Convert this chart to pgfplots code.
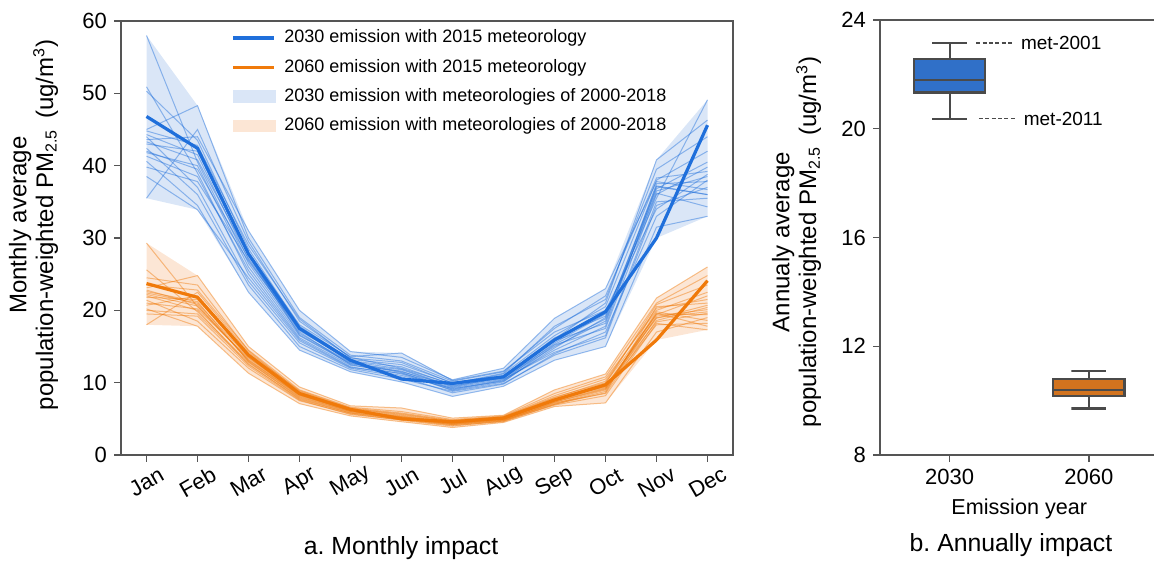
\documentclass[border=0pt]{standalone}
\usepackage{pgfplots}
\pgfplotsset{compat=1.18}
\usepackage{pgfplotstable}
\usepackage{fontspec}
\setmainfont{Liberation Sans}

\definecolor{c30}{HTML}{1F6FDB}
\definecolor{c60}{HTML}{F07A0A}
\definecolor{b30}{HTML}{DAE6F7}
\definecolor{b60}{HTML}{FCE6D5}
\definecolor{box30}{HTML}{3070C8}
\definecolor{box60}{HTML}{D2731E}
\definecolor{boxedge}{HTML}{4A4A4A}
\definecolor{axgray}{HTML}{555555}

\pgfplotsset{
  leglong/.style={legend image code/.code={\draw[##1] (0cm,0cm) -- (0.72cm,0cm);
      \path (0.845cm,0cm);}},
  legpatch/.style={legend image code/.code={\fill[##1] (0cm,-0.1cm) rectangle (0.75cm,0.11cm);
      \path (0.845cm,0cm);}},
  thin30/.style={c30, opacity=0.45, line width=0.5pt, forget plot},
  thin60/.style={c60, opacity=0.45, line width=0.5pt, forget plot},
  boxline/.style={boxedge, line width=1.1pt, forget plot},
}

% monthly population-weighted PM2.5, 2030 emission
% main = 2015 meteorology, L1..L18 = other meteorology years
\pgfplotstableread{
m main L1 L2 L3 L4 L5 L6 L7 L8 L9 L10 L11 L12 L13 L14 L15 L16 L17 L18
0 46.8 58.0 35.5 50.9 50.3 45.0 44.3 44.0 43.6 42.4 41.8 41.3 40.6 43.0 42.0 38.5 44.8 39.8 43.3
1 42.4 40.5 45.0 39.0 43.5 48.3 41.5 37.0 44.0 36.0 40.0 38.5 34.5 42.0 39.5 33.9 42.8 37.8 40.8
2 27.8 26.5 29.5 25.0 28.5 30.0 27.0 24.0 31.0 23.5 26.0 25.5 22.5 28.0 27.2 24.5 29.0 26.8 27.6
3 17.5 16.8 18.5 16.0 17.8 19.0 17.0 15.5 20.0 15.0 16.5 16.2 14.5 18.0 17.2 15.8 18.8 17.4 16.6
4 13.1 12.8 13.5 12.2 13.2 13.8 12.5 12.0 14.3 11.8 12.6 12.4 11.5 13.6 13.0 12.1 13.4 12.9 12.7
5 10.5 11.5 12.0 11.0 12.5 13.0 11.2 10.8 13.5 10.5 11.8 11.6 10.1 14.1 12.2 11.3 12.8 11.9 11.4
6 9.9 9.6 9.8 9.2 10.0 10.2 9.0 8.6 10.4 8.8 9.4 9.1 8.1 10.3 9.7 9.3 9.9 9.5 8.9
7 10.8 10.6 11.2 10.2 11.0 11.5 10.3 9.8 12.0 9.9 10.7 10.4 9.5 11.6 10.9 10.5 11.3 10.8 10.1
8 15.9 15.0 16.5 14.8 16.0 17.5 15.5 14.0 18.9 13.8 15.3 14.5 13.1 17.0 16.2 14.2 17.8 15.8 15.2
9 19.8 18.5 20.5 19.0 21.0 22.0 19.5 17.0 23.0 16.2 18.8 17.8 15.0 20.0 19.2 16.5 21.5 18.2 17.5
10 30.0 36.5 38.0 37.2 40.8 38.3 35.5 33.0 37.8 34.5 36.2 37.1 31.5 34.0 36.8 35.0 39.5 37.5 36.0
11 45.6 38.5 42.0 36.0 46.3 39.2 49.1 38.0 36.7 37.0 34.3 36.0 33.0 38.8 40.5 35.5 44.0 37.8 39.8
}\tblA

% monthly population-weighted PM2.5, 2060 emission
\pgfplotstableread{
m main L1 L2 L3 L4 L5 L6 L7 L8 L9 L10 L11 L12 L13 L14 L15 L16 L17 L18
0 23.7 29.3 18.0 25.6 23.1 22.4 21.4 20.7 22.0 21.8 20.2 22.8 19.5 23.5 21.0 22.6 20.0 24.5 22.2
1 21.8 20.5 22.5 19.8 24.8 21.0 18.5 22.0 20.0 21.5 17.8 20.8 19.2 22.8 20.2 21.2 19.5 23.5 20.6
2 13.8 13.2 14.2 12.8 15.0 13.5 12.0 14.0 12.5 13.8 11.3 13.0 12.3 14.5 13.4 12.9 12.6 14.4 13.1
3 8.5 8.2 8.8 8.0 9.4 8.4 7.5 8.9 7.8 8.6 7.1 8.1 7.6 9.0 8.3 7.9 7.7 8.7 8.3
4 6.3 6.1 6.4 6.0 6.8 6.2 5.7 6.5 5.8 6.3 5.4 6.0 5.6 6.6 6.1 5.9 5.8 6.4 6.2
5 5.0 5.3 5.6 5.1 6.5 5.4 4.8 5.8 4.9 5.5 4.6 5.2 4.9 6.0 5.3 5.0 5.1 5.7 5.2
6 4.6 4.4 4.7 4.3 5.1 4.5 4.0 4.8 4.1 4.6 3.8 4.4 4.2 4.9 4.5 4.3 4.2 4.7 4.4
7 5.1 5.0 5.2 4.9 5.5 5.1 4.7 5.3 4.6 5.2 4.5 4.9 4.8 5.4 5.0 4.8 4.7 5.3 5.0
8 7.6 7.3 7.9 7.1 9.0 7.5 6.9 8.2 7.0 7.8 6.7 7.4 7.2 8.5 7.6 7.0 7.3 8.0 7.7
9 9.7 9.2 10.2 9.0 11.2 9.5 8.2 10.5 8.8 9.9 7.2 9.3 8.5 10.8 9.6 8.6 9.1 10.0 9.4
10 15.9 19.5 20.3 19.8 21.7 18.9 18.2 20.0 19.2 20.8 17.0 19.6 18.6 21.0 19.0 20.5 18.0 19.4 18.4
11 24.1 19.4 21.5 18.6 26.0 20.7 17.3 22.5 20.1 23.5 19.0 17.8 20.4 24.8 19.8 21.0 18.2 22.0 19.6
}\tblB

% envelopes (max over Jan..Dec, then min over Dec..Jan)
\pgfplotstableread{
m v
0 58.0
1 48.3
2 31.0
3 20.0
4 14.3
5 14.1
6 10.4
7 12.0
8 18.9
9 23.0
10 40.8
11 49.1
11 33.0
10 30.0
9 15.0
8 13.1
7 9.5
6 8.1
5 10.1
4 11.5
3 14.5
2 22.5
1 33.9
0 35.5
}\bandA
\pgfplotstableread{
m v
0 29.3
1 24.8
2 15.0
3 9.4
4 6.8
5 6.5
6 5.1
7 5.5
8 9.0
9 11.2
10 21.7
11 26.0
11 17.3
10 15.9
9 7.2
8 6.7
7 4.5
6 3.8
5 4.6
4 5.4
3 7.1
2 11.3
1 17.8
0 18.0
}\bandB

\begin{document}
\begin{tikzpicture}
\begin{scope}
\clip (0,0) rectangle (577pt,-282.5pt);

% ---- a. monthly impact ----
\begin{axis}[
  at={(60.5pt,-227.5pt)}, anchor=south west,
  width=306pt, height=217pt, scale only axis,
  xmin=-0.5, xmax=11.5, ymin=0, ymax=60,
  xtick={0,...,11},
  xticklabels={Jan,Feb,Mar,Apr,May,Jun,Jul,Aug,Sep,Oct,Nov,Dec},
  ytick={0,10,...,60},
  tick pos=left, tick align=outside, major tick length=3.5pt,
  axis line style={axgray, line width=0.7pt},
  every tick/.style={axgray, line width=0.7pt},
  /pgf/number format/assume math mode=true,
  tick label style={font=\fontsize{11}{13}\selectfont},
  xticklabel style={anchor=center, yshift=-10pt, rotate=30},
  legend style={at={(0.17,0.995)}, anchor=north west, draw=none, fill=none,
    font=\fontsize{9}{10}\selectfont, row sep=4.3pt,
    nodes={inner sep=0.8pt, text height=6.8pt, text depth=2pt}},
  legend cell align=left,
]
\addlegendimage{leglong, c30, line width=1.6pt}
\addlegendentry{2030 emission with 2015 meteorology}
\addlegendimage{leglong, c60, line width=1.6pt}
\addlegendentry{2060 emission with 2015 meteorology}
\addlegendimage{legpatch, b30}
\addlegendentry{2030 emission with meteorologies of 2000-2018}
\addlegendimage{legpatch, b60}
\addlegendentry{2060 emission with meteorologies of 2000-2018}

\addplot[fill=b30, draw=none, forget plot] table[x=m, y=v]{\bandA} -- cycle;
\addplot[fill=b60, draw=none, forget plot] table[x=m, y=v]{\bandB} -- cycle;

\pgfplotsinvokeforeach{1,...,18}{
  \addplot[thin30] table[x=m, y=L#1]{\tblA};
  \addplot[thin60] table[x=m, y=L#1]{\tblB};
}

\addplot[c30, line width=1.6pt, forget plot] table[x=m, y=main]{\tblA};
\addplot[c60, line width=1.6pt, forget plot] table[x=m, y=main]{\tblB};
\end{axis}

% ---- b. annual impact ----
\begin{axis}[
  at={(440pt,-227.5pt)}, anchor=south west,
  width=139.25pt, height=217.5pt, scale only axis,
  xmin=-0.5, xmax=1.5, ymin=8, ymax=24,
  xtick={0,1}, xticklabels={2030,2060},
  ytick={8,12,...,24},
  tick pos=left, tick align=outside, major tick length=3.5pt,
  axis line style={axgray, line width=0.7pt},
  every tick/.style={axgray, line width=0.7pt},
  /pgf/number format/assume math mode=true,
  tick label style={font=\fontsize{11}{13}\selectfont},
  xlabel={Emission year},
  xlabel style={font=\fontsize{10.8}{13}\selectfont},
]
% 2030: whiskers 20.37 / 23.16, quartiles 21.33 / 22.57, median 21.78
\addplot[boxline] coordinates {(0,22.57) (0,23.16) (-0.125,23.16) (0.125,23.16)};
\addplot[boxline] coordinates {(0,21.33) (0,20.37) (-0.125,20.37) (0.125,20.37)};
\addplot[boxline, fill=box30] coordinates
  {(-0.255,21.33) (0.255,21.33) (0.255,22.57) (-0.255,22.57)} -- cycle;
\addplot[boxline] coordinates {(-0.255,21.78) (0.255,21.78)};
% 2060: whiskers 9.71 / 11.08, quartiles 10.18 / 10.80, median 10.40
\addplot[boxline] coordinates {(1,10.80) (1,11.08) (0.875,11.08) (1.125,11.08)};
\addplot[boxline] coordinates {(1,10.18) (1,9.71) (0.875,9.71) (1.125,9.71)};
\addplot[boxline, fill=box60] coordinates
  {(0.745,10.18) (1.255,10.18) (1.255,10.80) (0.745,10.80)} -- cycle;
\addplot[boxline] coordinates {(0.745,10.40) (1.255,10.40)};

\draw[boxedge, line width=0.75pt, dash pattern=on 2pt off 1.2pt]
  (axis cs:0.19,23.16) -- (axis cs:0.45,23.16)
  node[right, black, font=\fontsize{9.5}{11}\selectfont, inner sep=0pt, xshift=4pt] {met-2001};
\draw[boxedge, line width=0.75pt, dash pattern=on 2pt off 1.2pt]
  (axis cs:0.21,20.37) -- (axis cs:0.47,20.37)
  node[right, black, font=\fontsize{9.5}{11}\selectfont, inner sep=0pt, xshift=4pt] {met-2011};
\end{axis}
\end{scope}

% axis titles and panel captions
\node[rotate=90, align=center, font=\fontsize{12}{11.5}\selectfont]
  at (16.75pt,-112.5pt)
  {Monthly average\\population-weighted PM\textsubscript{2.5} \,(ug/m\textsuperscript{3})};
\node[rotate=90, align=center, font=\fontsize{12}{11.5}\selectfont]
  at (398.25pt,-121pt)
  {Annualy average\\population-weighted PM\textsubscript{2.5} \,(ug/m\textsuperscript{3})};
\node[font=\fontsize{12.4}{14}\selectfont] at (200.5pt,-274pt) {a.\ Monthly impact};
\node[font=\fontsize{12.4}{14}\selectfont] at (505.5pt,-272.5pt) {b.\ Annually impact};

\pgfresetboundingbox
\useasboundingbox (0,0) rectangle (577pt,-282.5pt);
\end{tikzpicture}
\end{document}
